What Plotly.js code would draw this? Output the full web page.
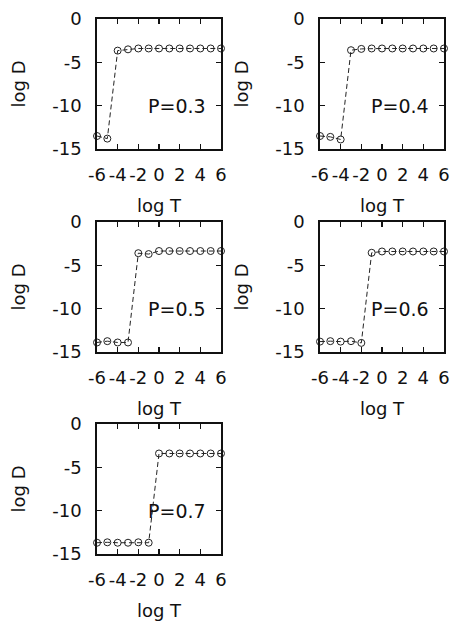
<!DOCTYPE html>
<html>
<head>
<meta charset="utf-8">
<script src="https://cdn.plot.ly/plotly-3.0.1.min.js"></script>
<style>html,body{margin:0;padding:0;background:#fff;}#chart{width:450px;height:624px;}</style>
</head>
<body>
<div id="chart"></div>
<script>
// Data
var logT = [-6, -5, -4, -3, -2, -1, 0, 1, 2, 3, 4, 5, 6];
var logD_P03 = [-13.5, -13.8, -3.65, -3.5, -3.4, -3.4, -3.4, -3.4, -3.4, -3.4, -3.4, -3.4, -3.4];
var logD_P04 = [-13.5, -13.6, -13.9, -3.6, -3.45, -3.4, -3.4, -3.4, -3.4, -3.4, -3.4, -3.4, -3.4];
var logD_P05 = [-13.9, -13.75, -13.9, -13.9, -3.6, -3.7, -3.35, -3.35, -3.35, -3.35, -3.35, -3.35, -3.35];
var logD_P06 = [-13.8, -13.75, -13.8, -13.75, -13.95, -3.55, -3.4, -3.4, -3.4, -3.4, -3.4, -3.4, -3.4];
var logD_P07 = [-13.7, -13.65, -13.7, -13.7, -13.65, -13.7, -3.4, -3.4, -3.4, -3.4, -3.4, -3.4, -3.4];
var panelLabels = ["P=0.3", "P=0.4", "P=0.5", "P=0.6", "P=0.7"];
var series = [logD_P03, logD_P04, logD_P05, logD_P06, logD_P07];
var xTicks = [-6, -4, -2, 0, 2, 4, 6];
var yTicks = [-15, -10, -5, 0];
var xTitle = "log T";
var yTitle = "log D";

var W = 450, H = 624;
var colsPx = [[97, 221], [320, 444]];
var rowsPx = [[19, 149], [222, 352], [424, 554]];
var font = {family: "DejaVu Sans", size: 18, color: "#111"};
var annFont = {family: "DejaVu Sans", size: 19, color: "#111"};

var data = [];
var layout = {
  width: W, height: H,
  margin: {l: 0, r: 0, t: 0, b: 0},
  paper_bgcolor: "#fff", plot_bgcolor: "#fff",
  showlegend: false,
  font: font,
  annotations: []
};

for (var i = 0; i < series.length; i++) {
  var n = i + 1;
  var col = i % 2, row = Math.floor(i / 2);
  var xs = n === 1 ? "x" : "x" + n;
  var ys = n === 1 ? "y" : "y" + n;
  data.push({
    x: logT, y: series[i], xaxis: xs, yaxis: ys,
    type: "scatter", mode: "lines+markers",
    line: {color: "#222", width: 1, dash: "5px,3px"},
    marker: {symbol: "circle-open", size: 7, color: "#222", line: {width: 1, color: "#222"}},
    cliponaxis: false
  });
  var common = {
    showline: true, linecolor: "#111", linewidth: 1.8, mirror: "ticks",
    ticks: "inside", ticklen: 5, tickwidth: 1.3, tickcolor: "#111",
    showgrid: false, zeroline: false, fixedrange: true,
    tickfont: font, tickangle: 0
  };
  layout["xaxis" + (n === 1 ? "" : n)] = Object.assign({}, common, {
    domain: [colsPx[col][0] / W, colsPx[col][1] / W],
    range: [-6, 6], tickvals: xTicks, ticktext: xTicks.map(String),
    anchor: ys, ticklabelstandoff: 9,
    title: {text: xTitle, font: font, standoff: 15}
  });
  layout["yaxis" + (n === 1 ? "" : n)] = Object.assign({}, common, {
    domain: [1 - rowsPx[row][1] / H, 1 - rowsPx[row][0] / H],
    range: [-15, 0], tickvals: yTicks, ticktext: yTicks.map(String),
    anchor: xs, ticklabelstandoff: 10,
    title: {text: yTitle, font: font, standoff: 22}
  });
  layout.annotations.push({
    xref: xs, yref: ys, x: 4.7, y: -10, xanchor: "right", yanchor: "middle",
    text: panelLabels[i], showarrow: false, font: annFont
  });
}

Plotly.newPlot("chart", data, layout, {displayModeBar: false, staticPlot: true});
</script>
</body>
</html>
